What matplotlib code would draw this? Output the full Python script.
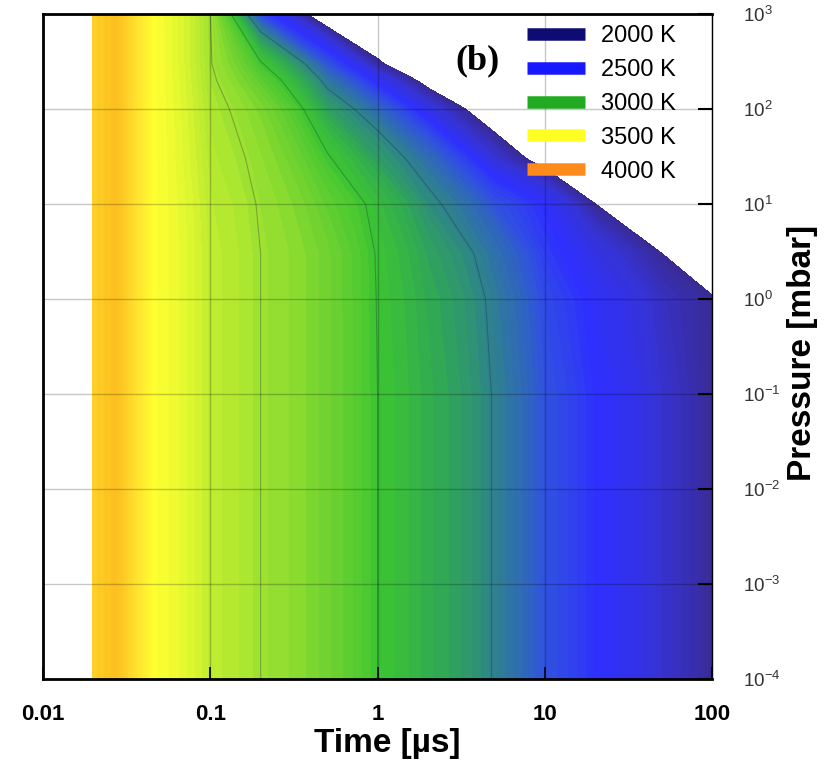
import numpy as np
import matplotlib
matplotlib.use('Agg')
import matplotlib.pyplot as plt
from matplotlib.colors import LinearSegmentedColormap, Normalize
from matplotlib.lines import Line2D
from matplotlib.ticker import NullLocator

plt.rcParams['font.family'] = ['Liberation Sans', 'DejaVu Sans']

# particle temperature [K], rows = pressure, cols = time
time_us = [0.02, 0.027, 0.035, 0.045, 0.1, 0.2, 0.5, 1, 2, 5, 10, 20, 50, 100]
pressure_mbar = [1e-4, 1e-1, 1, 3, 10, 30, 100, 200, 300, 1000]
temperature_K = [
    [3720, 3800, 3650, 3500, 3330, 3250, 3150, 3020, 2930, 2780, 2600, 2470, 2280, 2120],
    [3720, 3800, 3650, 3500, 3330, 3250, 3150, 3020, 2930, 2780, 2600, 2470, 2280, 2120],
    [3720, 3800, 3650, 3500, 3330, 3250, 3150, 3015, 2915, 2760, 2570, 2430, 2240, 2120],
    [3720, 3800, 3650, 3500, 3330, 3250, 3150, 3010, 2890, 2720, 2520, 2350, 2110, 1900],
    [3720, 3800, 3650, 3500, 3320, 3240, 3110, 2980, 2820, 2600, 2450, 2110, 1700, 1500],
    [3720, 3800, 3650, 3500, 3300, 3220, 3030, 2870, 2700, 2300, 1950, 1700, 1500, 1400],
    [3720, 3800, 3650, 3500, 3280, 3180, 2880, 2680, 2360, 1800, 1500, 1300, 1200, 1100],
    [3720, 3800, 3650, 3500, 3265, 3100, 2740, 2420, 1980, 1500, 1250, 1150, 1050, 1000],
    [3720, 3800, 3650, 3500, 3255, 3030, 2600, 2150, 1700, 1300, 1100, 1000, 950, 900],
    [3720, 3800, 3650, 3500, 3250, 2550, 1800, 1400, 1200, 1000, 900, 850, 800, 750],
]
t_min, t_max = 2110, 3810
line_levels = [2790, 3020, 3250]

# colour scale
cmap_temps = [2100, 2300, 2470, 2600, 2780, 2900, 3020, 3150, 3300, 3420, 3500, 3650, 3800, 4000]
cmap_colors = ['#3a2a8c', '#3633d6', '#2f30ff', '#3050e0', '#2f8090', '#30a558', '#3cc432',
               '#6ed230', '#b2e830', '#e2f830', '#ffff30', '#ffe02e', '#fcc020', '#ff8c1a']

legend_labels = ['2000 K', '2500 K', '3000 K', '3500 K', '4000 K']
legend_colors = ['#0c0c72', '#1818ff', '#22aa22', '#ffff22', '#ff8a1c']

lo, hi = cmap_temps[0], cmap_temps[-1]
cmap = LinearSegmentedColormap.from_list(
    'temp', [((t - lo) / (hi - lo), c) for t, c in zip(cmap_temps, cmap_colors)])
norm = Normalize(vmin=lo, vmax=hi)

fig = plt.figure(figsize=(8.34, 7.74), dpi=100)
ax = fig.add_axes([0.0516, 0.1227, 0.8022, 0.8592])

T = np.array(temperature_K, dtype=float)
levels = np.linspace(t_min, t_max, 70)
cs = ax.contourf(time_us, pressure_mbar, T, levels=levels, cmap=cmap, norm=norm)
cs.set_edgecolor('face')
cs.set_linewidth(0.3)
ax.contour(time_us, pressure_mbar, T, levels=line_levels, colors='#13243a',
           linewidths=0.8, alpha=0.3)

ax.set_xscale('log')
ax.set_yscale('log')
ax.set_xlim(0.01, 100)
ax.set_ylim(1e-4, 1e3)
ax.set_xticks([0.01, 0.1, 1, 10, 100])
ax.set_xticklabels(['0.01', '0.1', '1', '10', '100'], fontweight='bold')
ax.set_yticks([1e-4, 1e-3, 1e-2, 1e-1, 1, 10, 100, 1000])
ax.xaxis.set_minor_locator(NullLocator())
ax.yaxis.set_minor_locator(NullLocator())

ax.yaxis.tick_right()
ax.yaxis.set_label_position('right')
ax.tick_params(axis='x', direction='in', length=9, width=1.2, pad=18, labelsize=16)
ax.tick_params(axis='y', direction='in', length=10, width=1.5, pad=22, labelsize=13.5,
               labelcolor='#333333')

ax.grid(True, which='major', color='black', alpha=0.22, linewidth=1.0)
ax.set_axisbelow(False)

for side in ['left', 'bottom', 'top']:
    ax.spines[side].set_linewidth(2)
ax.spines['right'].set_linewidth(1)

ax.set_xlabel('Time [\u00b5s]', fontsize=24, fontweight='bold')
ax.xaxis.set_label_coords(0.514, -0.074)
ax.set_ylabel('Pressure [mbar]', fontsize=24, fontweight='bold')
ax.yaxis.set_label_coords(1.112, 0.49)

ax.text(0.65, 0.93, '(b)', transform=ax.transAxes, fontsize=26, fontweight='bold',
        family=['Liberation Serif', 'DejaVu Serif'], ha='center', va='center')

handles = [Line2D([], [], color=c, linewidth=9, solid_capstyle='butt') for c in legend_colors]
ax.legend(handles, legend_labels, loc='upper left', bbox_to_anchor=(0.7235, 0.983),
          frameon=False, fontsize=17, handlelength=2.45, handletextpad=0.7,
          labelspacing=0.5, borderaxespad=0, borderpad=0)

fig.savefig('out.png', dpi=100)
